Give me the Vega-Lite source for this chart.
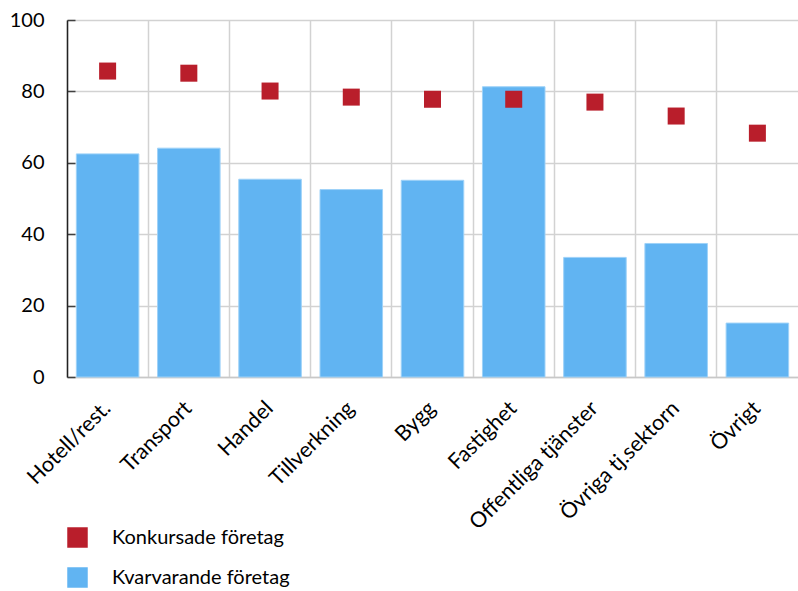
{
  "$schema": "https://vega.github.io/schema/vega-lite/v6.json",
  "width": 731,
  "height": 357,
  "autosize": {"type": "none"},
  "padding": {"left": 67, "top": 20, "right": 0, "bottom": 214},
  "background": "white",
  "config": {
    "view": {"stroke": null},
    "font": "Lato",
    "axis": {"labelFont": "Lato", "labelColor": "#000000"}
  },
  "data": {
    "values": [
      {"kategori": "Hotell/rest.", "serie": "Kvarvarande företag", "varde": 62.5},
      {"kategori": "Transport", "serie": "Kvarvarande företag", "varde": 64.1},
      {"kategori": "Handel", "serie": "Kvarvarande företag", "varde": 55.4},
      {"kategori": "Tillverkning", "serie": "Kvarvarande företag", "varde": 52.5},
      {"kategori": "Bygg", "serie": "Kvarvarande företag", "varde": 55.1},
      {"kategori": "Fastighet", "serie": "Kvarvarande företag", "varde": 81.3},
      {"kategori": "Offentliga tjänster", "serie": "Kvarvarande företag", "varde": 33.5},
      {"kategori": "Övriga tj.sektorn", "serie": "Kvarvarande företag", "varde": 37.4},
      {"kategori": "Övrigt", "serie": "Kvarvarande företag", "varde": 15.1},
      {"kategori": "Hotell/rest.", "serie": "Konkursade företag", "varde": 85.7},
      {"kategori": "Transport", "serie": "Konkursade företag", "varde": 85.1},
      {"kategori": "Handel", "serie": "Konkursade företag", "varde": 80.1},
      {"kategori": "Tillverkning", "serie": "Konkursade företag", "varde": 78.4},
      {"kategori": "Bygg", "serie": "Konkursade företag", "varde": 77.8},
      {"kategori": "Fastighet", "serie": "Konkursade företag", "varde": 77.8},
      {"kategori": "Offentliga tjänster", "serie": "Konkursade företag", "varde": 77.0},
      {"kategori": "Övriga tj.sektorn", "serie": "Konkursade företag", "varde": 73.1},
      {"kategori": "Övrigt", "serie": "Konkursade företag", "varde": 68.3}
    ]
  },
  "encoding": {
    "x": {
      "field": "kategori",
      "type": "nominal",
      "sort": null,
      "scale": {"paddingInner": 0, "paddingOuter": 0},
      "axis": {
        "title": null,
        "labelAngle": -45,
        "labelAlign": "right",
        "labelBaseline": "middle",
        "labelFontSize": 21.5,
        "labelPadding": 28,
        "labelLimit": 0,
        "ticks": false,
        "grid": true,
        "bandPosition": 0,
        "gridColor": "#d2d2d2",
        "gridWidth": 1.5,
        "domainColor": "#c8c8c8",
        "domainWidth": 1.5,
        "zindex": 0
      }
    },
    "y": {
      "field": "varde",
      "type": "quantitative",
      "scale": {"domain": [0, 100], "nice": false},
      "axis": {
        "title": null,
        "values": [0, 20, 40, 60, 80, 100],
        "labelFontSize": 20,
        "labelPadding": 31,
        "tickSize": -8,
        "tickColor": "#404040",
        "tickWidth": 1.5,
        "domainColor": "#222222",
        "domainWidth": 1.5,
        "grid": true,
        "gridColor": "#d2d2d2",
        "gridWidth": 1.5,
        "zindex": 0
      }
    },
    "color": {
      "field": "serie",
      "type": "nominal",
      "scale": {
        "domain": ["Konkursade företag", "Kvarvarande företag"],
        "range": ["#B91E2B", "#61B4F2"]
      },
      "legend": {
        "title": null,
        "orient": "none",
        "legendX": 0,
        "legendY": 507,
        "direction": "vertical",
        "symbolType": "square",
        "symbolSize": 420,
        "symbolStrokeWidth": 0,
        "labelFontSize": 20,
        "labelFont": "Lato",
        "labelLimit": 0,
        "labelOffset": 24,
        "rowPadding": 19,
        "padding": 0
      }
    }
  },
  "layer": [
    {
      "transform": [{"filter": "datum.serie === 'Kvarvarande företag'"}],
      "mark": {"type": "bar", "width": {"band": 0.77}, "stroke": "#9ED2F8", "strokeWidth": 1}
    },
    {
      "transform": [{"filter": "datum.serie === 'Konkursade företag'"}],
      "mark": {"type": "point", "shape": "square", "filled": true, "size": 289, "opacity": 1}
    }
  ]
}
